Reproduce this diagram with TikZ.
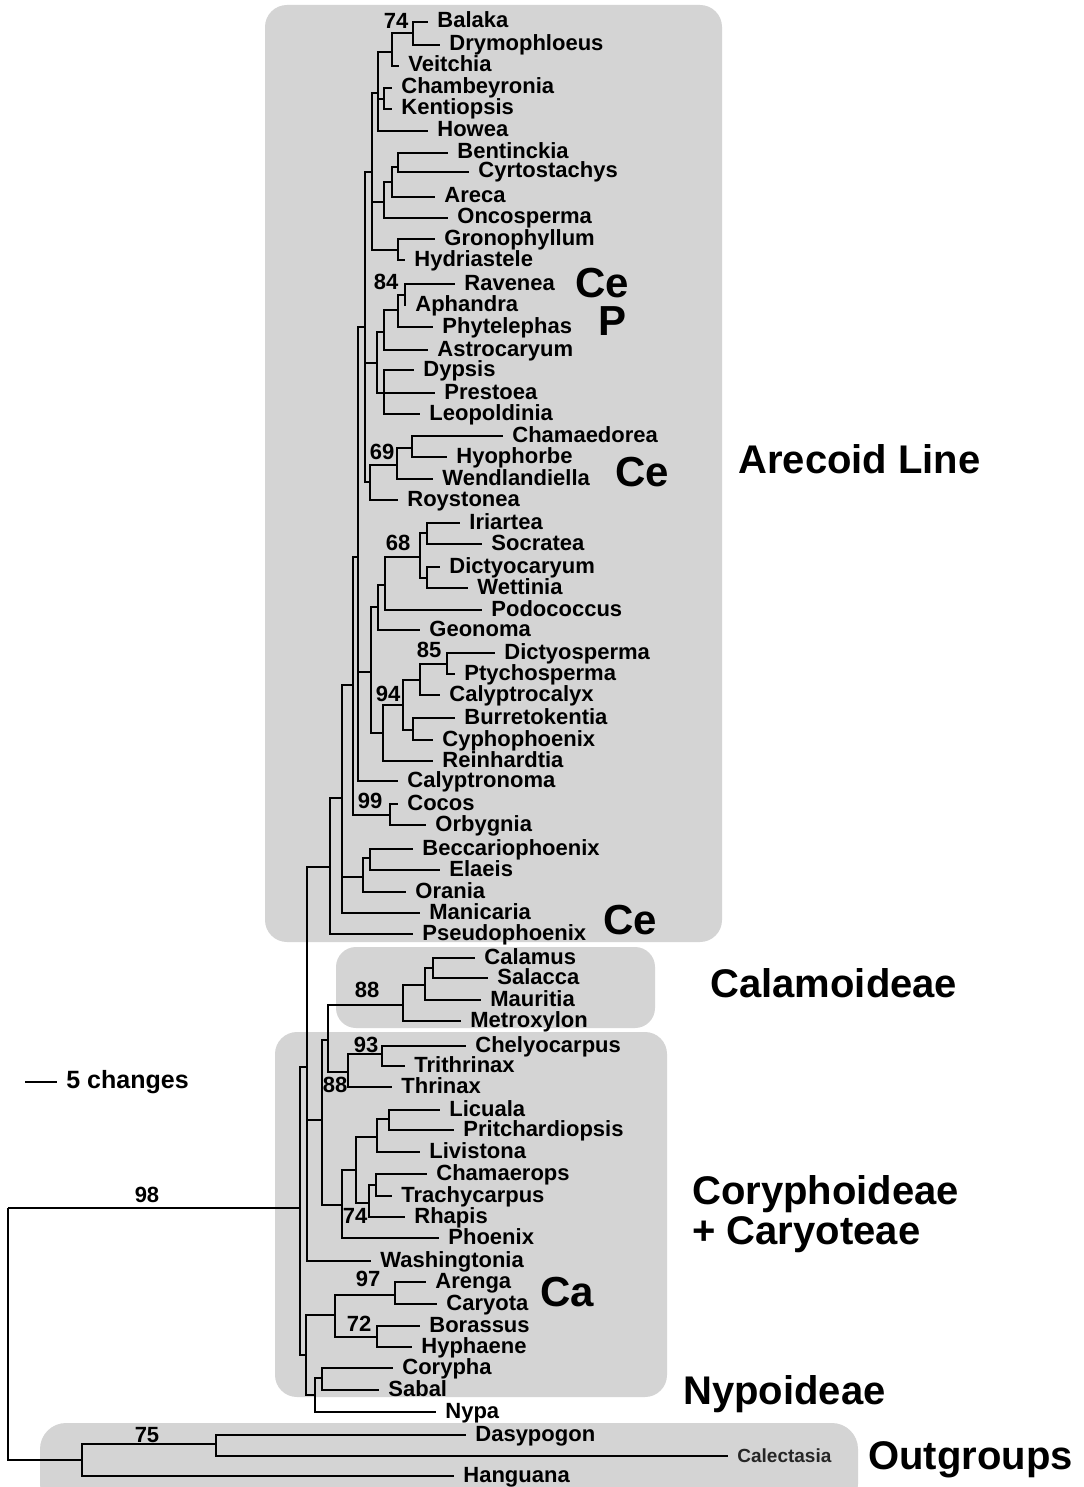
\documentclass[tikz,border=0pt]{standalone}
\usepackage{fontspec}
\setmainfont{Liberation Sans}

\begin{document}
\begin{tikzpicture}[x=0.5pt,y=-0.5pt,line join=miter,
  grp/.style={fill=black!17,rounded corners=11pt},
  br/.style={line width=1pt},
  taxon/.style={anchor=west,inner xsep=4.5pt,inner ysep=0pt,text height=8pt,
                text depth=2pt,font=\bfseries\fontsize{11}{11}\selectfont},
  boot/.style={inner sep=0pt,font=\bfseries\fontsize{11}{11}\selectfont},
  tag/.style={anchor=base west,inner sep=0pt,font=\bfseries\fontsize{21}{21}\selectfont},
  clade/.style={anchor=base west,inner sep=0pt,align=left,
                font=\bfseries\fontsize{20}{20}\selectfont}]
\useasboundingbox (0,0) rectangle (1083,1487);
\fill[white] (0,0) rectangle (1083,1487);
% shaded groups
\fill[grp] (265,5) rectangle (722,942);
\fill[grp,rounded corners=10pt] (336,947) rectangle (655,1028);
\fill[grp] (275,1032) rectangle (667,1397);
\fill[grp,rounded corners=13pt] (40,1423) rectangle (858,1510);
% internal nodes
\foreach \n/\x/\y in {nBD/413/33,nBDV/392/52,nCK/384/99,nHow/378/93,nBC/398/167,
  nBCA/392/182,nBCAO/384/202,nGH/398/250,nB/372/172,nRA/405/295,nRAP/398/310,
  nRAPA/384/332,nDPL/384/393,nRD/377/363,nCH/412/448,nCHW/397/465,nCHWR/370/482,
  nAR/365/327,nIS/427/533,nDW/427/578,n68/420/557,n68P/385/585,nGeo/378/607,
  nDP/447/664,nDPC/420/680,nBuC/413/730,n94/403/705,n94R/383/733,nIR/371/672,
  nP/358/557,nCO/390/815,nQ/353/685,nBE/370/858,nBEO/363/877,nY/342/798,nX/330/867,
  nCS/433/968,nCSM/425/985,nCal/403/1005,nCT/382/1054,nThr/348/1072,nC88/328/1040,
  nLP/389/1119,nLPL/377/1137,nCTr/376/1185,n74/369/1203,nLR/356/1170,nPh/342/1205,
  nCor/322/1120,nN1/307/1067,nAC/395/1295,nBH/377/1337,nCar/335/1315,nCoS/322/1378,
  nNy/315/1395,nCN/306/1355,nN0/300/1208,nOut/82/1460,nDC/216/1444,nRoot/8/1208}
  \coordinate (\n) at (\x,\y);
% taxa
\foreach \t/\x/\y in {Balaka/428/22,Drymophloeus/440/45,Veitchia/399/66,
  Chambeyronia/392/88,Kentiopsis/392/109,Howea/428/131,Bentinckia/448/153,
  Cyrtostachys/469/172,Areca/435/197,Oncosperma/448/218,Gronophyllum/435/239,
  Hydriastele/405/260,Ravenea/455/284,Aphandra/406/305,Phytelephas/433/327,
  Astrocaryum/428/350,Dypsis/414/370,Prestoea/435/393,Leopoldinia/420/414,
  Chamaedorea/503/436,Hyophorbe/447/457,Wendlandiella/433/479,Roystonea/398/500,
  Iriartea/460/523,Socratea/482/544,Dictyocaryum/440/567,Wettinia/468/588,
  Podococcus/482/610,Geonoma/420/630,Dictyosperma/495/653,Ptychosperma/455/674,
  Calyptrocalyx/440/695,Burretokentia/455/718,Cyphophoenix/433/740,
  Reinhardtia/433/761,Calyptronoma/398/781,Cocos/398/804,Orbygnia/426/825,
  Beccariophoenix/413/849,Elaeis/440/870,Orania/406/892,Manicaria/420/913,
  Pseudophoenix/413/934,Calamus/475/958,Salacca/488/978,Mauritia/481/1000,
  Metroxylon/461/1021,Chelyocarpus/466/1046,Trithrinax/405/1066,Thrinax/392/1087,
  Licuala/440/1110,Pritchardiopsis/454/1130,Livistona/420/1152,Chamaerops/427/1174,
  Trachycarpus/392/1196,Rhapis/405/1217,Phoenix/439/1238,Washingtonia/371/1261,
  Arenga/426/1282,Caryota/437/1304,Borassus/420/1326,Hyphaene/412/1347,
  Corypha/393/1368,Sabal/379/1390,Nypa/436/1412,Dasypogon/466/1435,Hanguana/454/1476}
  \node[taxon] (\t) at (\x,\y) {\t};
\node[taxon,font=\bfseries\fontsize{9.5}{9.5}\selectfont,text=black!85] (Calectasia) at (728,1456) {Calectasia};
% branches
\foreach \p/\c in {nBD/Balaka.west,nBD/Drymophloeus.west,nBDV/nBD,nBDV/Veitchia.west,
  nCK/Chambeyronia.west,nCK/Kentiopsis.west,nHow/nBDV,nHow/nCK,nHow/Howea.west,
  nBC/Bentinckia.west,nBC/Cyrtostachys.west,nBCA/nBC,nBCA/Areca.west,nBCAO/nBCA,
  nBCAO/Oncosperma.west,nGH/Gronophyllum.west,nGH/Hydriastele.west,nB/nHow,nB/nBCAO,
  nB/nGH,nRA/Ravenea.west,nRA/Aphandra.west,nRAP/nRA,nRAP/Phytelephas.west,nRAPA/nRAP,
  nRAPA/Astrocaryum.west,nDPL/Dypsis.west,nDPL/Prestoea.west,nDPL/Leopoldinia.west,
  nRD/nRAPA,nRD/nDPL,nCH/Chamaedorea.west,nCH/Hyophorbe.west,nCHW/nCH,
  nCHW/Wendlandiella.west,nCHWR/nCHW,nCHWR/Roystonea.west,nAR/nB,nAR/nRD,nAR/nCHWR}
  \draw[br] (\p) |- (\c);
\foreach \p/\c in {nIS/Iriartea.west,nIS/Socratea.west,nDW/Dictyocaryum.west,
  nDW/Wettinia.west,n68/nIS,n68/nDW,n68P/n68,n68P/Podococcus.west,nGeo/n68P,
  nGeo/Geonoma.west,nDP/Dictyosperma.west,nDP/Ptychosperma.west,nDPC/nDP,
  nDPC/Calyptrocalyx.west,nBuC/Burretokentia.west,nBuC/Cyphophoenix.west,n94/nDPC,
  n94/nBuC,n94R/n94,n94R/Reinhardtia.west,nIR/nGeo,nIR/n94R,nP/nAR,nP/nIR,
  nP/Calyptronoma.west,nCO/Cocos.west,nCO/Orbygnia.west,nQ/nP,nQ/nCO,
  nBE/Beccariophoenix.west,nBE/Elaeis.west,nBEO/nBE,nBEO/Orania.west,nY/nQ,nY/nBEO,
  nY/Manicaria.west,nX/nY,nX/Pseudophoenix.west}
  \draw[br] (\p) |- (\c);
\foreach \p/\c in {nCS/Calamus.west,nCS/Salacca.west,nCSM/nCS,nCSM/Mauritia.west,
  nCal/nCSM,nCal/Metroxylon.west,nCT/Chelyocarpus.west,nCT/Trithrinax.west,nThr/nCT,
  nThr/Thrinax.west,nC88/nCal,nC88/nThr,nLP/Licuala.west,nLP/Pritchardiopsis.west,
  nLPL/nLP,nLPL/Livistona.west,nCTr/Chamaerops.west,nCTr/Trachycarpus.west,n74/nCTr,
  n74/Rhapis.west,nLR/nLPL,nLR/n74,nPh/nLR,nPh/Phoenix.west,nCor/nC88,nCor/nPh,
  nN1/nX,nN1/nCor,nN1/Washingtonia.west,nAC/Arenga.west,nAC/Caryota.west,
  nBH/Borassus.west,nBH/Hyphaene.west,nCar/nAC,nCar/nBH,nCoS/Corypha.west,
  nCoS/Sabal.west,nNy/nCoS,nNy/Nypa.west,nCN/nCar,nCN/nNy,nN0/nN1,nN0/nCN,
  nDC/Dasypogon.west,nDC/Calectasia.west,nOut/nDC,nOut/Hanguana.west}
  \draw[br] (\p) |- (\c);
\draw[line width=.8pt] (nRoot) |- (nN0);
\draw[line width=.8pt] (nRoot) |- (nOut);
% bootstrap values
\foreach \b/\x/\y [count=\i] in {74/396/21,84/386/282,69/382/452,68/398/543,
  85/429/650,94/388/694,99/370/801,88/367/990,93/366/1045,88/335/1085,74/355/1216,
  97/368/1279,72/359/1324,98/147/1195,75/147/1435}
  \node[boot] (bs\i) at (\x,\y) {\b};
% group labels
\node[tag] (ce1) at (575,297) {Ce};
\node[tag] (pp) at (598,335) {P};
\node[tag] (ce2) at (615,486) {Ce};
\node[tag] (ce3) at (603,934) {Ce};
\node[tag] (ca) at (540,1306) {Ca};
\node[clade] (arec) at (738,473) {Arecoid Line};
\node[clade] (calam) at (710,997) {Calamoideae};
\node[clade] (coryph) at (692,1244) {Coryphoideae\\+ Caryoteae};
\node[clade] (nypo) at (683,1404) {Nypoideae};
\node[clade] (outg) at (868,1469) {Outgroups};
% scale bar
\coordinate (sb0) at (25,1082);
\coordinate (sb1) at (57,1082);
\draw[br] (sb0) -- (sb1);
\node[anchor=west,inner sep=0pt,font=\bfseries\fontsize{12.5}{12.5}\selectfont] (sbl) at (66,1082) {5 changes};
\end{tikzpicture}
\end{document}
